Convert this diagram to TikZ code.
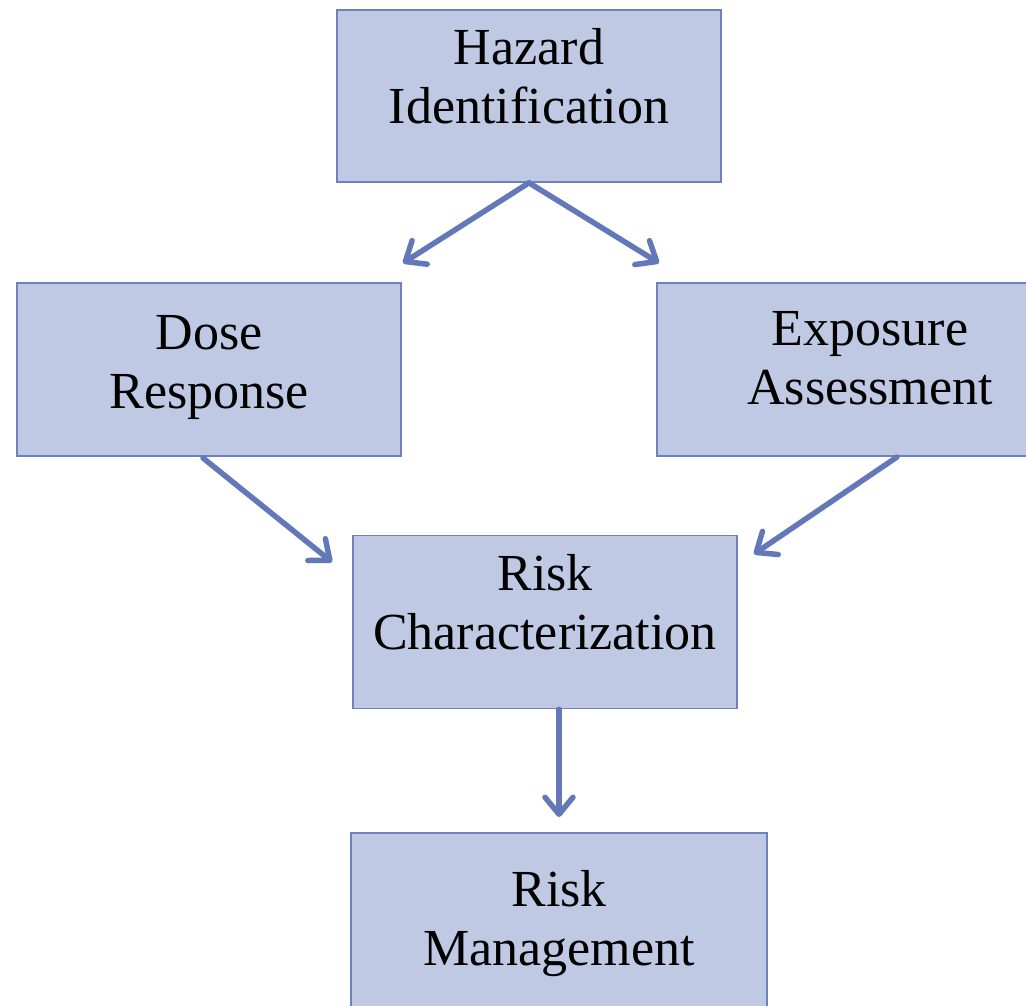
\documentclass[tikz,border=0pt]{standalone}
\usepackage{fontspec}
\setmainfont{Liberation Serif}
\usetikzlibrary{arrows.meta}

\definecolor{boxfill}{HTML}{BFC9E3}
\definecolor{boxline}{HTML}{6F82C0}
\definecolor{arrowblue}{HTML}{6278B8}

\tikzset{
  stagebox/.style={draw=boxline, fill=boxfill, line width=1.6pt, rectangle, inner sep=0pt},
  stagetext/.style={align=center, text=black, inner sep=0pt, font=\fontsize{52}{59}\selectfont},
  flow/.style={draw=arrowblue, line width=5.5pt, line cap=round,
    -{Straight Barb[length=17pt,width=28pt,line cap=round,line join=round]}}
}

\begin{document}
\begin{tikzpicture}[x=1pt, y=-1pt]
\useasboundingbox (0,0) rectangle (1026,1005);
\clip (0,0) rectangle (1026,1005);

  % boxes
  \node[stagebox, minimum width=384pt, minimum height=172pt] (haz) at (529,96) {};
  \node[stagebox, minimum width=384pt, minimum height=173pt] (dose) at (209,369.5) {};
  \node[stagebox, minimum width=426pt, minimum height=173pt] (expo) at (870,369.5) {};
  \node[stagebox, minimum width=384pt, minimum height=173pt] (riskc) at (545,622) {};
  \node[stagebox, minimum width=416pt, minimum height=177pt] (riskm) at (559,921.5) {};

  % labels
  \node[stagetext] (haz-txt) at ([yshift=14pt]haz.center) {\strut Hazard\\Identification\strut};
  \node[stagetext] (dose-txt) at ([yshift=2pt]dose.center) {\strut Dose\\Response\strut};
  \node[stagetext] (expo-txt) at ([yshift=6pt]expo.center) {\strut Exposure\\Assessment\strut};
  \node[stagetext] (riskc-txt) at ([yshift=14pt]riskc.center) {\strut Risk\\Characterization\strut};
  \node[stagetext] (riskm-txt) at ([yshift=-3pt]riskm.center) {\strut Risk\\Management\strut};

  % arrow ends
  \coordinate (dose-in) at (403,263);
  \coordinate (expo-in) at (659,263);
  \coordinate (dose-out) at (203,458);
  \coordinate (riskc-in1) at (332,562);
  \coordinate (expo-out) at (897,457);
  \coordinate (riskc-in2) at (754,554);
  \coordinate (riskm-in) at (559,817);

  \draw[flow] (haz.south) -- (dose-in);
  \draw[flow] (haz.south) -- (expo-in);
  \draw[flow] (dose-out) -- (riskc-in1);
  \draw[flow] (expo-out) -- (riskc-in2);
  \draw[flow] (riskc.south -| riskm.north) -- (riskm-in);

\end{tikzpicture}
\end{document}
